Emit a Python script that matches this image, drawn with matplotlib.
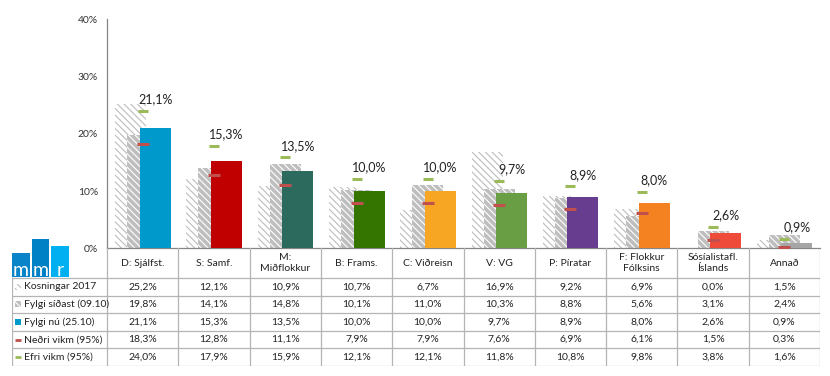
import matplotlib.pyplot as plt
from matplotlib.patches import Rectangle
import numpy as np

plt.rcParams['font.family'] = ['Lato', 'DejaVu Sans']
plt.rcParams['hatch.linewidth'] = 0.8

### DATA
parties = ['D: Sjálfst.', 'S: Samf.', 'M:\nMiðflokkur', 'B: Frams.', 'C: Viðreisn',
           'V: VG', 'P: Píratar', 'F: Flokkur\nFólksins', 'Sósíalistafl.\nÍslands', 'Annað']
election = [25.2, 12.1, 10.9, 10.7, 6.7, 16.9, 9.2, 6.9, 0.0, 1.5]
previous = [19.8, 14.1, 14.8, 10.1, 11.0, 10.3, 8.8, 5.6, 3.1, 2.4]
current = [21.1, 15.3, 13.5, 10.0, 10.0, 9.7, 8.9, 8.0, 2.6, 0.9]
lower = [18.3, 12.8, 11.1, 7.9, 7.9, 7.6, 6.9, 6.1, 1.5, 0.3]
upper = [24.0, 17.9, 15.9, 12.1, 12.1, 11.8, 10.8, 9.8, 3.8, 1.6]
party_colors = ['#0099CC', '#C00000', '#2D6A5E', '#347500', '#F6A623',
                '#6A9E44', '#663D8F', '#F58220', '#EE4B3A', '#A6A6A6']
row_labels = ['Kosningar 2017', 'Fylgi síðast (09.10)', 'Fylgi nú (25.10)',
              'Neðri vikm (95%)', 'Efri vikm (95%)']

def pct(v):
    return f'{v:.1f}%'.replace('.', ',')

W, H = 830, 376
fig = plt.figure(figsize=(W / 100, H / 100), dpi=100)

# chart area
ax = fig.add_axes([107 / W, (H - 248.3) / H, 713 / W, 229 / H])
x = np.arange(len(parties))
bw = 0.435
red = '#C0504D'
green = '#9BBB59'

ax.bar(x - 0.17, election, bw, color='white', edgecolor='#BDBDBD', hatch='\\\\\\\\\\', lw=0, zorder=1)
ax.bar(x, previous, bw, color='#BEBEBE', edgecolor='white', hatch='\\\\\\\\\\', lw=0, zorder=2)
ax.bar(x + 0.175, current, bw, color=party_colors, lw=0, zorder=3)
ax.plot(x, lower, ls='none', marker='_', ms=8.5, mew=2.2, color=red, zorder=4)
ax.plot(x, upper, ls='none', marker='_', ms=7, mew=2.2, color=green, zorder=4)

for i, v in enumerate(current):
    ax.annotate(pct(v), xy=(x[i] + 0.175, upper[i]), xytext=(0, 4), textcoords='offset points',
                ha='center', va='bottom', fontsize=9, color='#222222')

ax.set_xlim(-0.5, len(parties) - 0.5)
ax.set_ylim(0, 40)
ax.set_yticks([0, 10, 20, 30, 40])
ax.set_yticklabels([f'{t}%' for t in [0, 10, 20, 30, 40]], fontsize=7.5, color='#333333')
ax.tick_params(axis='y', length=0, pad=6.5)
ax.set_xticks([])
for s in ['top', 'right']:
    ax.spines[s].set_visible(False)
for s in ['left', 'bottom']:
    ax.spines[s].set_color('#868686')
    ax.spines[s].set_linewidth(0.9)

# data table
cw = 71.3
x0 = -0.5 - (107 - 12) / cw
tax = fig.add_axes([12 / W, (H - 366) / H, 808 / W, 118 / H])
tax.set_xlim(x0, len(parties) - 0.5)
tax.set_ylim(118, 0)
tax.axis('off')
lc = '#B4B4B4'
head = 30
rh = 17.6
for k in range(len(parties) + 1):
    tax.plot([k - 0.5, k - 0.5], [0, 118], color=lc, lw=0.9)
tax.plot([x0, x0], [head, 118], color=lc, lw=0.9)
for r in range(len(row_labels) + 1):
    tax.plot([x0, len(parties) - 0.5], [head + r * rh] * 2, color=lc, lw=0.9)

for i, name in enumerate(parties):
    tax.text(i, head / 2, name, ha='center', va='center', fontsize=7.5,
             color='#222222', linespacing=1.15)

rows = [election, previous, current, lower, upper]
for r, vals in enumerate(rows):
    yc = head + (r + 0.5) * rh
    for i, v in enumerate(vals):
        tax.text(i, yc, pct(v), ha='center', va='center', fontsize=7.5, color='#222222')
    tax.text(x0 + 12 / cw, yc, row_labels[r], ha='left', va='center', fontsize=7.5, color='#222222')

# legend keys
kx = x0 + 3 / cw
kw = 6 / cw
keys = [dict(fc='white', ec='#BDBDBD', hatch='\\\\\\\\\\'),
        dict(fc='#BEBEBE', ec='white', hatch='\\\\\\\\\\'),
        dict(fc=party_colors[0], ec=party_colors[0])]
for r, kw_ in enumerate(keys):
    yc = head + (r + 0.5) * rh
    tax.add_patch(Rectangle((kx, yc - 3), kw, 6, lw=0, clip_on=False, **kw_))
for r, c in [(3, red), (4, green)]:
    yc = head + (r + 0.5) * rh
    tax.plot([kx, kx + kw], [yc, yc], color=c, lw=2, solid_capstyle='butt')

# mmr logo
lax = fig.add_axes([12 / W, (H - 277) / H, 58 / W, 38 / H])
lax.set_xlim(12, 70)
lax.set_ylim(277, 239)
lax.axis('off')
blocks = [(12, 30, 252.7, '#0A84C8', 'm'), (31.7, 49.3, 239.3, '#0081C6', 'm'),
          (51, 69, 246, '#00B0F0', 'r')]
for xa, xb, top, c, ch in blocks:
    lax.add_patch(Rectangle((xa, top), xb - xa, 277 - top, color=c, lw=0))
    lax.text((xa + xb) / 2, 276.5, ch, ha='center', va='baseline', color='white',
             fontsize=14, fontweight='normal')

fig.savefig('out.png', dpi=100)
